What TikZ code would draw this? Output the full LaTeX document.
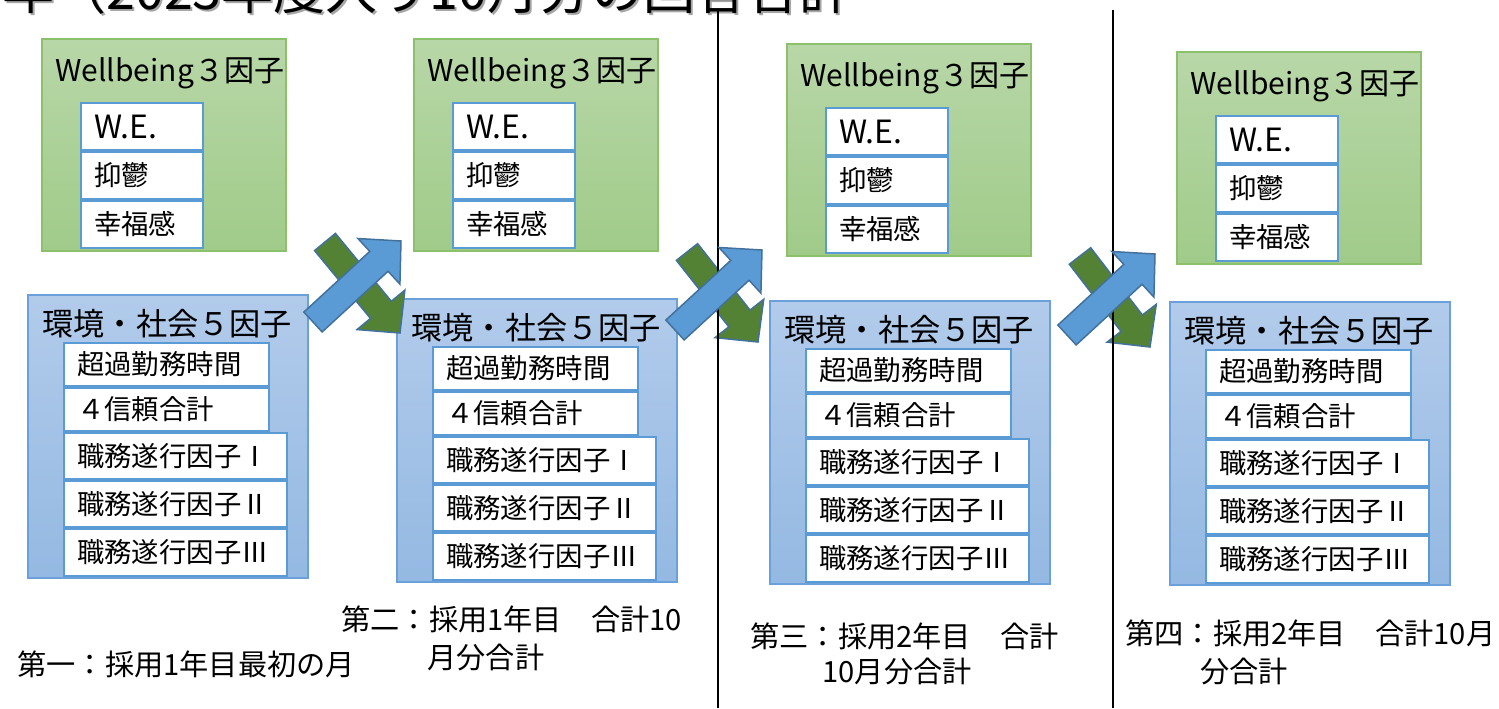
\documentclass[tikz,border=0pt]{standalone}
\usepackage{fontspec}
\setmainfont{Noto Sans CJK JP}
\usetikzlibrary{calc}
\definecolor{gtop}{RGB}{184,215,168}
\definecolor{gbot}{RGB}{160,203,137}
\definecolor{gline}{RGB}{140,192,106}
\definecolor{btop}{RGB}{178,203,235}
\definecolor{bbot}{RGB}{148,185,226}
\definecolor{bline}{RGB}{108,160,218}
\definecolor{rline}{RGB}{91,155,213}
\definecolor{arrblue}{RGB}{91,155,213}
\definecolor{arrgreen}{RGB}{84,130,53}
\definecolor{arrline}{RGB}{65,113,156}
\tikzset{
 gbox/.style={draw=gline, line width=1pt, top color=gtop, bottom color=gbot, minimum width=122pt, minimum height=106pt, anchor=north west, inner sep=0pt},
 bbox/.style={draw=bline, line width=1pt, top color=btop, bottom color=bbot, minimum width=140pt, minimum height=141.5pt, anchor=north west, inner sep=0pt},
 rowbox/.style={draw=rline, line width=1pt, fill=white, anchor=north west, inner xsep=6.5pt, inner ysep=0pt, align=left, font=\fontsize{13.7pt}{16pt}\selectfont},
 narrowrow/.style={text width=89.5pt},
 widerow/.style={text width=98.5pt},
 wbrow/.style={text width=48pt, minimum height=23.5pt},
 headtxt/.style={anchor=west, inner sep=0pt, font=\fontsize{15pt}{18pt}\selectfont},
 envhead/.style={anchor=west, inner sep=0pt, font=\fontsize{15.6pt}{18pt}\selectfont},
 captxt/.style={anchor=west, inner sep=0pt, font=\fontsize{14.6pt}{18pt}\selectfont},
 fatarr/.style={draw=arrline, line width=0.75pt, line join=miter},
 sepline/.style={line width=1pt, draw=black},
}
\newcommand\wbpanel[3]{%
 \node[gbox] (#1g) at (#2,#3) {};
 \node[headtxt] (#1gt) at ($(#1g.north west)+(14,35)$) {Wellbeing３因子};
 \node[rowbox, wbrow] (#1r1) at ($(#1g.north west)+(39,64)$) {\fontsize{16pt}{18pt}\selectfont W.E.};
 \node[rowbox, wbrow] (#1r2) at (#1r1.south west) {抑鬱};
 \node[rowbox, wbrow] (#1r3) at (#1r2.south west) {幸福感};
}
\newcommand\envpanel[3]{%
 \node[bbox] (#1b) at (#2,#3) {};
 \node[envhead] (#1bt) at ($(#1b.north west)+(15,30)$) {環境・社会５因子};
 \node[rowbox, narrowrow, minimum height=21.5pt] (#1e1) at ($(#1b.north west)+(36,48)$) {超過勤務時間};
 \node[rowbox, narrowrow, minimum height=21.5pt] (#1e2) at (#1e1.south west) {４信頼合計};
 \node[rowbox, widerow, minimum height=23pt] (#1e3) at (#1e2.south west) {職務遂行因子Ⅰ};
 \node[rowbox, widerow, minimum height=23pt] (#1e4) at (#1e3.south west) {職務遂行因子Ⅱ};
 \node[rowbox, widerow, minimum height=23.5pt] (#1e5) at (#1e4.south west) {職務遂行因子Ⅲ};
}
\newcommand\fatarrow[6]{%
 \coordinate (#1T) at (#3,#4);
 \coordinate (#1H) at (#5,#6);
 \coordinate (#1B) at ($(#1H)!15pt!(#1T)$);
 \draw[fatarr, fill=#2] ($(#1T)!6.75pt!90:(#1H)$) -- ($(#1B)!6.75pt!90:(#1H)$) -- ($(#1B)!15.5pt!90:(#1H)$) -- (#1H) -- ($(#1B)!15.5pt!-90:(#1H)$) -- ($(#1B)!6.75pt!-90:(#1H)$) -- ($(#1T)!6.75pt!-90:(#1H)$) -- cycle;
}
\begin{document}
\begin{tikzpicture}[x=0.5pt,y=-0.5pt]
\useasboundingbox (0,0) rectangle (1499,708);
\fill[white] (0,0) rectangle (1499,708);
% cut-off title
\node[anchor=base west, inner sep=0pt, font=\fontsize{26pt}{30pt}\selectfont, text=black!35] (titleshadow) at (4,11) {年（2023年度入り10月分の回答合計};
\node[anchor=base west, inner sep=0pt, font=\fontsize{26pt}{30pt}\selectfont] (title) at (2,9) {年（2023年度入り10月分の回答合計};
% panels
\wbpanel{pa}{41}{38}
\envpanel{pa}{27}{294}
\wbpanel{pb}{413}{38}
\envpanel{pb}{396}{298}
\wbpanel{pc}{786}{43}
\envpanel{pc}{769}{300}
\wbpanel{pd}{1176}{51}
\envpanel{pd}{1169}{301}
% green arrows (under the separators)
\fatarrow{ga}{arrgreen}{325}{242}{400}{333}
\fatarrow{gb}{arrgreen}{687}{252}{758}{342}
\fatarrow{gc}{arrgreen}{1080}{256}{1150}{347}
% separators
\coordinate (s1t) at (718,10); \coordinate (s1b) at (718,708);
\coordinate (s2t) at (1113,10); \coordinate (s2b) at (1113,708);
\draw[sepline] (s1t) -- (s1b);
\draw[sepline] (s2t) -- (s2b);
% blue arrows (over the separators)
\fatarrow{ba}{arrblue}{313}{322}{401}{241}
\fatarrow{bb}{arrblue}{675}{330}{762}{250}
\fatarrow{bc}{arrblue}{1067}{335}{1155}{254}
% captions
\node[captxt] (c1) at (17,664) {第一：採用1年目最初の月};
\node[captxt] (c2a) at (341,619) {第二：採用1年目　合計10};
\node[captxt] (c2b) at (427,657) {月分合計};
\node[captxt] (c3a) at (750,636) {第三：採用2年目　合計};
\node[captxt] (c3b) at (822,671) {10月分合計};
\node[captxt] (c4a) at (1125,633) {第四：採用2年目　合計10月};
\node[captxt] (c4b) at (1200,671) {分合計};
\end{tikzpicture}
\end{document}
